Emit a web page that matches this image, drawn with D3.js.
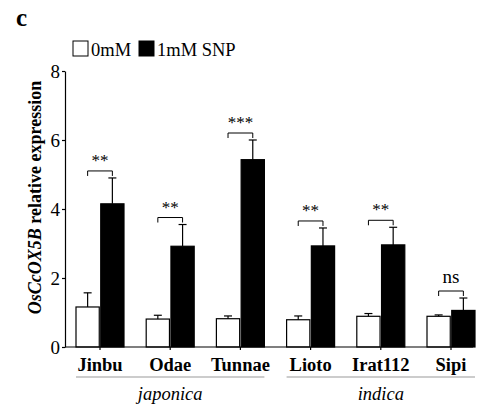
<!DOCTYPE html>
<html lang="en">
<head>
<meta charset="UTF-8">
<title>OsCcOX5B relative expression</title>
<script src="https://d3js.org/d3.v7.min.js"></script>
<style>
  body { margin: 0; background: #fff; }
  svg, svg text { font-family: "Liberation Serif", "Times New Roman", serif !important; fill: #000; }
  .axis path, .axis line { stroke: #000; stroke-width: 1.2; }
  .axis text { font-size: 19px; }
</style>
</head>
<body>
<svg id="chart" width="484" height="407"></svg>
<script>
// data
const cultivars = ["Jinbu", "Odae", "Tunnae", "Lioto", "Irat112", "Sipi"];
const treatments = ["0mM", "1mM SNP"];
const control = [1.16, 0.81, 0.82, 0.79, 0.89, 0.89];
const controlErr = [0.41, 0.11, 0.08, 0.11, 0.08, 0.04];
const snp = [4.15, 2.92, 5.43, 2.93, 2.96, 1.06];
const snpErr = [0.75, 0.63, 0.57, 0.52, 0.51, 0.36];
const signif = ["**", "**", "***", "**", "**", "ns"];
const yTicks = [0, 2, 4, 6, 8];
const groups = [
  { name: "japonica", from: "Jinbu", to: "Tunnae" },
  { name: "indica", from: "Lioto", to: "Sipi" }
];

const serif = "'Liberation Serif', 'Times New Roman', serif";
const svg = d3.select("#chart");
const y0 = 347, y8 = 71, xLeft = 65, axisEnd = 473;

const y = d3.scaleLinear().domain([0, 8]).range([y0, y8]);
const x0 = d3.scaleBand().domain(cultivars).range([xLeft, xLeft + 70.2 * 6]).paddingInner(0);
const x1 = d3.scaleBand().domain(treatments).range([11, 59]).paddingInner(0.06);

const rows = cultivars.map((c, i) => ({
  name: c,
  vals: [
    { t: treatments[0], v: control[i], e: controlErr[i] },
    { t: treatments[1], v: snp[i], e: snpErr[i] }
  ],
  sig: signif[i]
}));

// panel letter
svg.append("text").attr("x", 16).attr("y", 26)
  .style("font-size", "25px").style("font-weight", "bold").text("c");

// legend
const legend = svg.append("g");
[[73, 0], [139, 1]].forEach(([lx, k]) => {
  legend.append("rect").attr("x", lx).attr("y", 41).attr("width", 15).attr("height", 15)
    .attr("fill", k ? "#000" : "#fff").attr("stroke", "#000").attr("stroke-width", 1);
  legend.append("text").attr("x", lx + 18).attr("y", 55.5)
    .style("font-size", "18.5px").text(treatments[k]);
});

// y axis
const yAxis = svg.append("g").attr("class", "axis")
  .attr("transform", `translate(${xLeft},0)`)
  .call(d3.axisLeft(y).tickValues(yTicks).tickSize(3).tickSizeOuter(0).tickPadding(2))
  .attr("font-family", serif);
yAxis.selectAll("text").attr("dy", "0.34em").style("font-family", serif);

// y title
const yt = svg.append("text")
  .attr("transform", `translate(41,${(y0 + 84) / 2 - 18}) rotate(-90)`)
  .attr("text-anchor", "middle")
  .style("font-size", "18px").style("font-weight", "bold");
yt.append("tspan").style("font-style", "italic").text("OsCcOX5B");
yt.append("tspan").text(" relative expression");

// bars
const g = svg.selectAll(".grp").data(rows).enter().append("g")
  .attr("transform", d => `translate(${x0(d.name)},0)`);

g.selectAll("rect").data(d => d.vals).enter().append("rect")
  .attr("x", d => x1(d.t))
  .attr("y", d => y(d.v))
  .attr("width", x1.bandwidth())
  .attr("height", d => y0 - y(d.v))
  .attr("fill", (d, i) => i ? "#000" : "#fff")
  .attr("stroke", "#000").attr("stroke-width", 1.2);

// error bars (upper only)
const err = g.selectAll(".err").data(d => d.vals).enter().append("g");
err.append("line")
  .attr("x1", d => x1(d.t) + x1.bandwidth() / 2).attr("x2", d => x1(d.t) + x1.bandwidth() / 2)
  .attr("y1", d => y(d.v)).attr("y2", d => y(d.v + d.e))
  .attr("stroke", "#000").attr("stroke-width", 1.2);
err.append("line")
  .attr("x1", d => x1(d.t) + x1.bandwidth() / 2 - 4).attr("x2", d => x1(d.t) + x1.bandwidth() / 2 + 4)
  .attr("y1", d => y(d.v + d.e)).attr("y2", d => y(d.v + d.e))
  .attr("stroke", "#000").attr("stroke-width", 1.2);

// significance brackets
g.each(function (d) {
  const top = y(d.vals[1].v + d.vals[1].e) - 7;
  const a = x1(treatments[0]) + x1.bandwidth() / 2;
  const b = x1(treatments[1]) + x1.bandwidth() / 2;
  const sel = d3.select(this);
  sel.append("path")
    .attr("d", `M${a},${top + 5}V${top}H${b}V${top + 5}`)
    .attr("fill", "none").attr("stroke", "#000").attr("stroke-width", 1);
  sel.append("text")
    .attr("x", (a + b) / 2).attr("y", d.sig === "ns" ? top - 8 : top - 5)
    .attr("text-anchor", "middle")
    .style("font-size", d.sig === "ns" ? "19px" : "17px")
    .text(d.sig);
});

// x axis
const xAxis = svg.append("g").attr("class", "axis")
  .attr("transform", `translate(0,${y0})`)
  .call(d3.axisBottom(x0).tickSize(3).tickSizeOuter(0).tickPadding(8))
  .attr("font-family", serif);
xAxis.select(".domain").remove();
xAxis.append("line").attr("x1", xLeft).attr("x2", axisEnd).attr("stroke", "#000").attr("stroke-width", 1.2);
xAxis.selectAll(".tick text").attr("dy", "0.71em")
  .style("font-family", serif)
  .style("font-size", "18.5px").style("font-weight", "bold");
xAxis.selectAll(".tick").attr("transform", d => `translate(${x0(d) + 35},0)`);

// japonica / indica grouping
groups.forEach(gr => {
  const a = x0(gr.from) + x1(treatments[0]);
  const b = x0(gr.to) + x1(treatments[1]) + x1.bandwidth();
  svg.append("line").attr("x1", a).attr("x2", b).attr("y1", 377).attr("y2", 377)
    .attr("stroke", "#bbb").attr("stroke-width", 1.5);
  svg.append("text").attr("x", (a + b) / 2).attr("y", 400)
    .attr("text-anchor", "middle")
    .style("font-size", "18.5px").style("font-style", "italic").text(gr.name);
});
</script>
</body>
</html>
